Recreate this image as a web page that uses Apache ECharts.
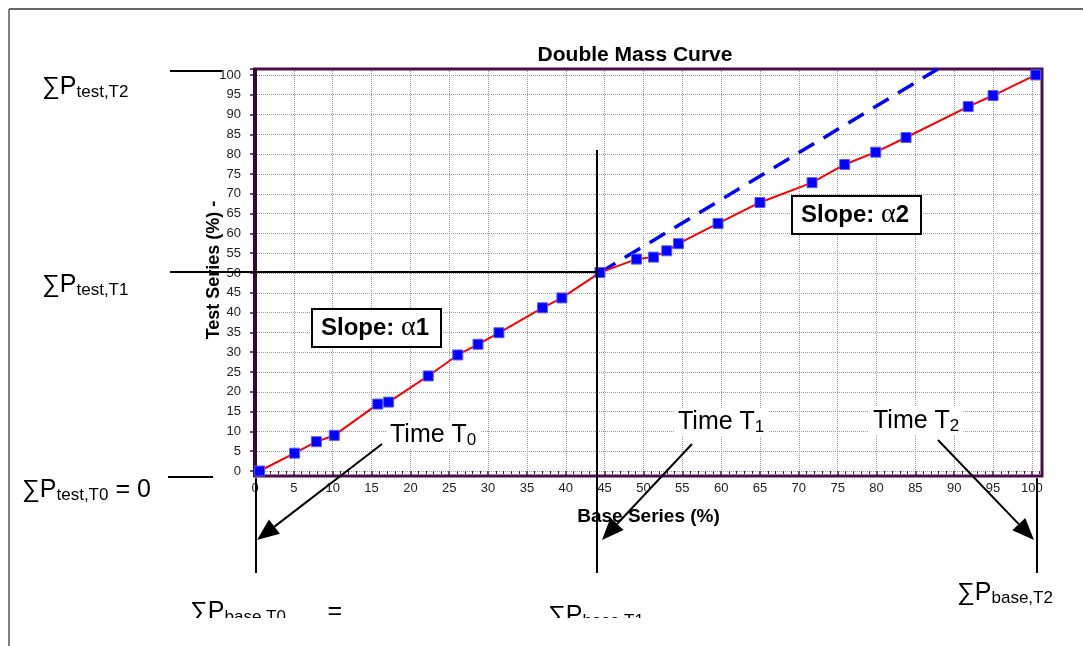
<!DOCTYPE html>
<html>
<head>
<meta charset="utf-8">
<script src="https://cdn.jsdelivr.net/npm/echarts@6/dist/echarts.min.js"></script>
<style>
  html, body { margin: 0; padding: 0; background: #fff; }
  #chart { width: 1083px; height: 646px; }
</style>
</head>
<body>
<div id="chart"></div>
<script>
// cumulative percentages
const baseSeries = [0.6, 5.1, 7.9, 10.2, 15.8, 17.2, 22.3, 26.1, 28.7, 31.4, 37.0, 39.5, 44.4,
  49.1, 51.3, 53.0, 54.5, 59.6, 65.0, 71.7, 75.9, 79.9, 83.8, 91.8, 95.0, 100.5]
const testSeries = [0, 4.5, 7.4, 9.0, 16.9, 17.4, 24.0, 29.3, 32.0, 34.9, 41.2, 43.7, 50.1,
  53.5, 54.0, 55.6, 57.4, 62.5, 67.8, 72.8, 77.4, 80.5, 84.2, 92.0, 94.8, 100.0]
// slope α1 carried on past the break (dashed)
const trendBase = [44.4, 87.9]
const trendTest = [50.1, 101.5]
const tickStep = 5

const font = "'Liberation Sans', Arial, sans-serif"
const purple = '#4a0f4a'

const chart = echarts.init(document.getElementById('chart'))

const pairs = (xs, ys) => xs.map((x, i) => [x, ys[i]])
const onStep = v => (Math.abs(v % tickStep) < 1e-6 ? String(v) : '')

const line = (x1, y1, x2, y2, w) => ({
  type: 'line', z: 10,
  shape: { x1, y1, x2, y2 },
  style: { stroke: '#000', lineWidth: w || 2 }
})

const arrow = (x1, y1, x2, y2) => {
  const len = Math.hypot(x2 - x1, y2 - y1)
  const ux = (x2 - x1) / len
  const uy = (y2 - y1) / len
  const bx = x2 - ux * 22
  const by = y2 - uy * 22
  return [
    line(x1, y1, bx, by, 2),
    {
      type: 'polygon', z: 10,
      shape: { points: [[x2, y2], [bx - uy * 9, by + ux * 9], [bx + uy * 9, by - ux * 9]] },
      style: { fill: '#000' }
    }
  ]
}

const rich = {
  a: { fontFamily: font, fontSize: 25, lineHeight: 28, fill: '#000' },
  s: { fontFamily: font, fontSize: 17, lineHeight: 12, verticalAlign: 'bottom', fill: '#000' },
  b: { fontFamily: font, fontSize: 24, fontWeight: 'bold', lineHeight: 28, fill: '#000' },
  g: { fontFamily: "'Liberation Serif', serif", fontSize: 28, lineHeight: 28, fill: '#000' }
}

const label = (x, y, text, extra) => ({
  type: 'text', x, y, z: 12,
  style: Object.assign({ text, rich, fill: '#000' }, extra || {})
})

const boxed = { backgroundColor: '#fff', borderColor: '#000', borderWidth: 2, padding: [4, 11, 4, 8] }
const blank = { backgroundColor: '#fff', padding: [0, 4] }

const graphics = [
  { type: 'rect', z: 1, shape: { x: 255, y: 69, width: 787, height: 407 },
    style: { fill: 'none', stroke: purple, lineWidth: 3 } },
  { type: 'line', z: 1, shape: { x1: 255, y1: 68, x2: 255, y2: 477 },
    style: { stroke: '#3a063a', lineWidth: 4 } },

  line(170, 71, 222, 71),
  line(170, 272, 597, 272),
  line(168, 477, 213, 477),
  line(256, 478, 256, 573),
  line(597, 150, 597, 573),
  line(1037, 478, 1037, 573),
  ...arrow(382, 444, 257, 540),
  ...arrow(692, 444, 602, 540),
  ...arrow(938, 440, 1034, 540),

  label(42, 73, '{a|∑P}{s|test,T2}'),
  label(42, 271, '{a|∑P}{s|test,T1}'),
  label(22, 476, '{a|∑P}{s|test,T0}{a| = 0}'),
  label(386, 421, '{a|Time T}{s|0}', blank),
  label(674, 408, '{a|Time T}{s|1}', blank),
  label(869, 407, '{a|Time T}{s|2}', blank),
  label(313, 310, '{b|Slope: }{g|α}{b|1}', boxed),
  label(793, 197, '{b|Slope: }{g|α}{b|2}', boxed),
  label(190, 598, '{a|∑P}{s|base,T0}{a|      =}'),
  label(548, 602, '{a|∑P}{s|base,T1}'),
  label(957, 579, '{a|∑P}{s|base,T2}'),

  // the source figure is cropped along the bottom
  { type: 'rect', z: 50, shape: { x: 10, y: 618, width: 1073, height: 28 }, style: { fill: '#fff' } },
  { type: 'line', z: 60, shape: { x1: 9, y1: 9, x2: 1083, y2: 9 }, style: { stroke: '#333', lineWidth: 1.5 } },
  { type: 'line', z: 60, shape: { x1: 9, y1: 9, x2: 9, y2: 646 }, style: { stroke: '#555', lineWidth: 1.5 } }
]

const option = {
  animation: false,
  backgroundColor: '#fff',
  title: {
    text: 'Double Mass Curve',
    left: 630,
    top: 40,
    textAlign: 'center',
    textStyle: { fontFamily: font, fontSize: 21, fontWeight: 'bold', color: '#000' }
  },
  grid: { left: 255, right: 41, top: 69, bottom: 175 },
  xAxis: {
    type: 'value',
    min: 0,
    max: 101.3,
    interval: tickStep,
    offset: 5,
    name: 'Base Series (%)',
    nameLocation: 'middle',
    nameGap: 31,
    nameMoveOverlap: false,
    nameTextStyle: { fontFamily: font, fontSize: 19, fontWeight: 'bold', color: '#000' },
    axisLine: { show: false },
    axisTick: { show: true, length: 5, lineStyle: { color: purple, width: 1.5 } },
    minorTick: { show: true, splitNumber: 5, length: 3, lineStyle: { color: purple } },
    axisLabel: { formatter: onStep, fontFamily: font, fontSize: 13, color: '#222', margin: 6 },
    splitLine: { show: true, lineStyle: { color: '#9a9a9a', type: 'dotted' } }
  },
  yAxis: {
    type: 'value',
    min: 0,
    max: 101.5,
    interval: tickStep,
    name: 'Test Series (%) -',
    nameLocation: 'middle',
    nameGap: 32,
    nameMoveOverlap: false,
    nameTextStyle: { fontFamily: font, fontSize: 18, fontWeight: 'bold', color: '#000' },
    axisLine: { show: false },
    axisTick: { show: true, length: 5, lineStyle: { color: purple, width: 1.5 } },
    axisLabel: { formatter: onStep, fontFamily: font, fontSize: 13, color: '#222', margin: 14 },
    splitLine: { show: true, lineStyle: { color: '#9a9a9a', type: 'dotted' } }
  },
  series: [
    {
      name: 'slope α1',
      type: 'line',
      data: pairs(trendBase, trendTest),
      symbol: 'none',
      lineStyle: { color: '#0000ff', width: 3.5, type: [18, 11] },
      z: 3
    },
    {
      name: 'Test vs Base',
      type: 'line',
      data: pairs(baseSeries, testSeries),
      symbol: 'rect',
      symbolSize: 10,
      lineStyle: { color: '#ff0000', width: 2 },
      itemStyle: { color: '#0000ff', borderColor: '#5a5aff', borderWidth: 1 },
      z: 4
    }
  ],
  graphic: { elements: graphics }
}

chart.setOption(option)
</script>
</body>
</html>
